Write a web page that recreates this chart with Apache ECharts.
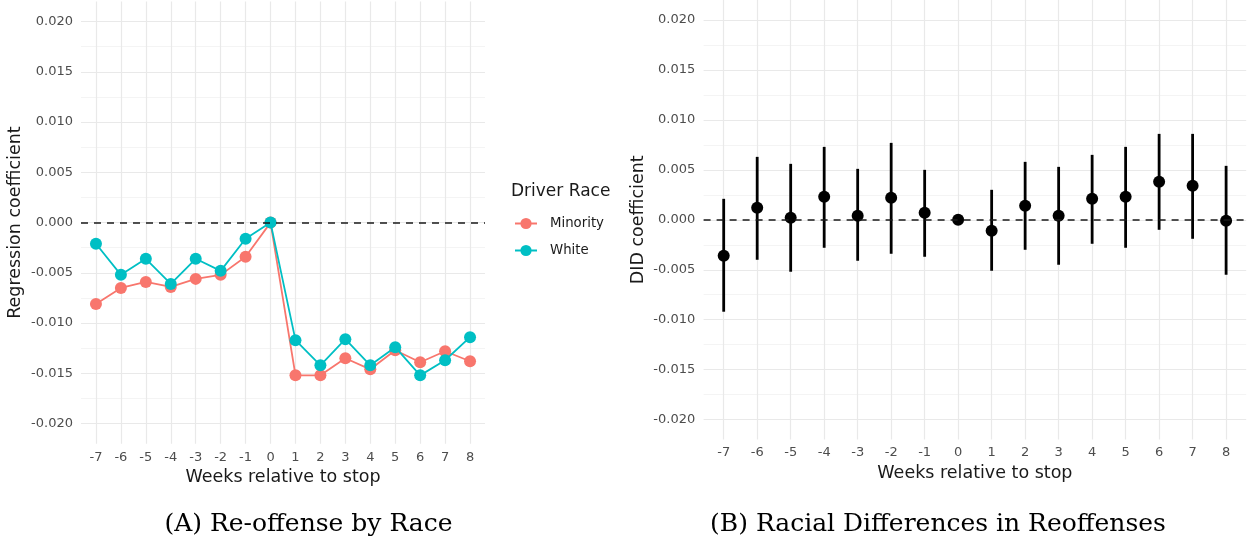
<!DOCTYPE html>
<html>
<head>
<meta charset="utf-8">
<script src="https://cdn.jsdelivr.net/npm/echarts@6/dist/echarts.min.js"></script>
<style>
html,body{margin:0;padding:0;background:#fff;}
#chart{width:1247px;height:544px;}
</style>
</head>
<body>
<div id="chart"></div>
<script>
// ---- data ----
const weeks = [-7,-6,-5,-4,-3,-2,-1,0,1,2,3,4,5,6,7,8];
const minority = [-0.0081,-0.0065,-0.0059,-0.0064,-0.0056,-0.0052,-0.0034,0.0000,-0.0152,-0.0152,-0.0135,-0.0146,-0.0127,-0.0139,-0.0128,-0.0138];
const white    = [-0.0021,-0.0052,-0.0036,-0.0061,-0.0036,-0.0048,-0.0016,0.0000,-0.0117,-0.0142,-0.0116,-0.0142,-0.0124,-0.0152,-0.0137,-0.0114];
const didCoef  = [-0.0036,0.0012,0.0002,0.0023,0.0004,0.0022,0.0007,0.0000,-0.0011,0.0014,0.0004,0.0021,0.0023,0.0038,0.0034,-0.0001];
const didLower = [-0.0092,-0.0040,-0.0052,-0.0028,-0.0041,-0.0034,-0.0037,0.0000,-0.0051,-0.0030,-0.0045,-0.0024,-0.0028,-0.0010,-0.0019,-0.0055];
const didUpper = [0.0021,0.0063,0.0056,0.0073,0.0051,0.0077,0.0050,0.0000,0.0030,0.0058,0.0053,0.0065,0.0073,0.0086,0.0086,0.0054];
const yMajorTicks = [-0.02,-0.015,-0.01,-0.005,0,0.005,0.01,0.015,0.02];
const yAllTicks = [-0.02,-0.0175,-0.015,-0.0125,-0.01,-0.0075,-0.005,-0.0025,0,0.0025,0.005,0.0075,0.01,0.0125,0.015,0.0175,0.02];
const seriesNames = ['Minority','White'];
const legendTitle = 'Driver Race';
const captionA = '(A) Re-offense by Race';
const captionB = '(B) Racial Differences in Reoffenses';

const RED = '#F8766D', TEAL = '#00BFC4';
const MAJ = '#e9e9e9', MIN = '#f4f4f4';
const SANS = 'DejaVu Sans';

function fmtY(v){ return v.toFixed(3); }

function xAxisCfg(gi){
  return {
    type:'value', gridIndex:gi, min:-7.6, max:8.6,
    name:'Weeks relative to stop', nameLocation:'middle', nameGap:24,
    nameTextStyle:{color:'#1a1a1a', fontSize:17.5, fontFamily:SANS},
    axisLine:{show:false},
    axisTick:{show:false, customValues:weeks},
    axisLabel:{customValues:weeks, color:'#4d4d4d', fontSize:13, fontFamily:SANS, margin:7},
    splitLine:{show:true, lineStyle:{color:MAJ, width:1.2}}
  };
}
function yAxisCfg(gi, name, gap, margin){
  return {
    type:'value', gridIndex:gi, min:-0.022, max:0.022,
    name:name, nameLocation:'middle', nameGap:gap, nameRotate:90,
    nameTextStyle:{color:'#1a1a1a', fontSize:17.5, fontFamily:SANS},
    axisLine:{show:false},
    axisTick:{show:false, customValues:yAllTicks},
    axisLabel:{customValues:yMajorTicks, formatter:fmtY, color:'#4d4d4d', fontSize:13, fontFamily:SANS, margin:margin},
    splitLine:{show:true, lineStyle:{color:[MAJ,MIN], width:1.2}}
  };
}

const zeroLine = {
  silent:true, symbol:'none', label:{show:false},
  lineStyle:{color:'#1a1a1a', type:[7,6], width:1.7, opacity:1},
  data:[{yAxis:0}]
};

const chart = echarts.init(document.getElementById('chart'));
chart.setOption({
  animation:false,
  backgroundColor:'#fff',
  grid:[
    {left:81, top:1.5, width:404, height:442.2},
    {left:703.6, top:-1.1, width:542.6, height:440.7}
  ],
  xAxis:[xAxisCfg(0), xAxisCfg(1)],
  yAxis:[yAxisCfg(0,'Regression coefficient',57,8), yAxisCfg(1,'DID coefficient',56.6,8.4)],
  legend:{
    orient:'vertical', left:509, top:212, itemWidth:22, itemHeight:14, itemGap:14,
    data:seriesNames,
    textStyle:{color:'#1a1a1a', fontSize:13.3, fontFamily:SANS, padding:[0,0,0,8]}
  },
  graphic:[
    {type:'text', left:511, top:183, style:{text:legendTitle, fill:'#1a1a1a', font:'17px "DejaVu Sans"'}},
    {type:'text', style:{text:captionA, x:308.5, y:524, fill:'#000', font:'25px "DejaVu Serif"', textAlign:'center', textVerticalAlign:'middle'}},
    {type:'text', style:{text:captionB, x:938, y:524, fill:'#000', font:'25px "DejaVu Serif"', textAlign:'center', textVerticalAlign:'middle'}}
  ],
  series:[
    {name:'zero0', type:'line', xAxisIndex:0, yAxisIndex:0, data:[], markLine:zeroLine, silent:true},
    {name:seriesNames[0], type:'line', xAxisIndex:0, yAxisIndex:0, z:3,
     data:weeks.map((w,i)=>[w,minority[i]]),
     symbol:'circle', symbolSize:12, color:RED,
     lineStyle:{width:1.8, color:RED}, itemStyle:{color:RED}},
    {name:seriesNames[1], type:'line', xAxisIndex:0, yAxisIndex:0, z:4,
     data:weeks.map((w,i)=>[w,white[i]]),
     symbol:'circle', symbolSize:12, color:TEAL,
     lineStyle:{width:1.8, color:TEAL}, itemStyle:{color:TEAL}},
    {name:'zero1', type:'line', xAxisIndex:1, yAxisIndex:1, data:[], markLine:zeroLine, silent:true},
    {name:'ci', type:'custom', xAxisIndex:1, yAxisIndex:1, z:3,
     data:weeks.map((w,i)=>[w,didLower[i],didUpper[i]]),
     renderItem:function(params, api){
       const x = api.value(0);
       const p1 = api.coord([x, api.value(2)]);
       const p2 = api.coord([x, api.value(1)]);
       return {type:'line', shape:{x1:p1[0],y1:p1[1],x2:p2[0],y2:p2[1]}, style:{stroke:'#000', lineWidth:2.8}};
     }},
    {name:'did', type:'scatter', xAxisIndex:1, yAxisIndex:1, z:4,
     data:weeks.map((w,i)=>[w,didCoef[i]]),
     symbol:'circle', symbolSize:12, itemStyle:{color:'#000', opacity:1}}
  ]
});
</script>
</body>
</html>
